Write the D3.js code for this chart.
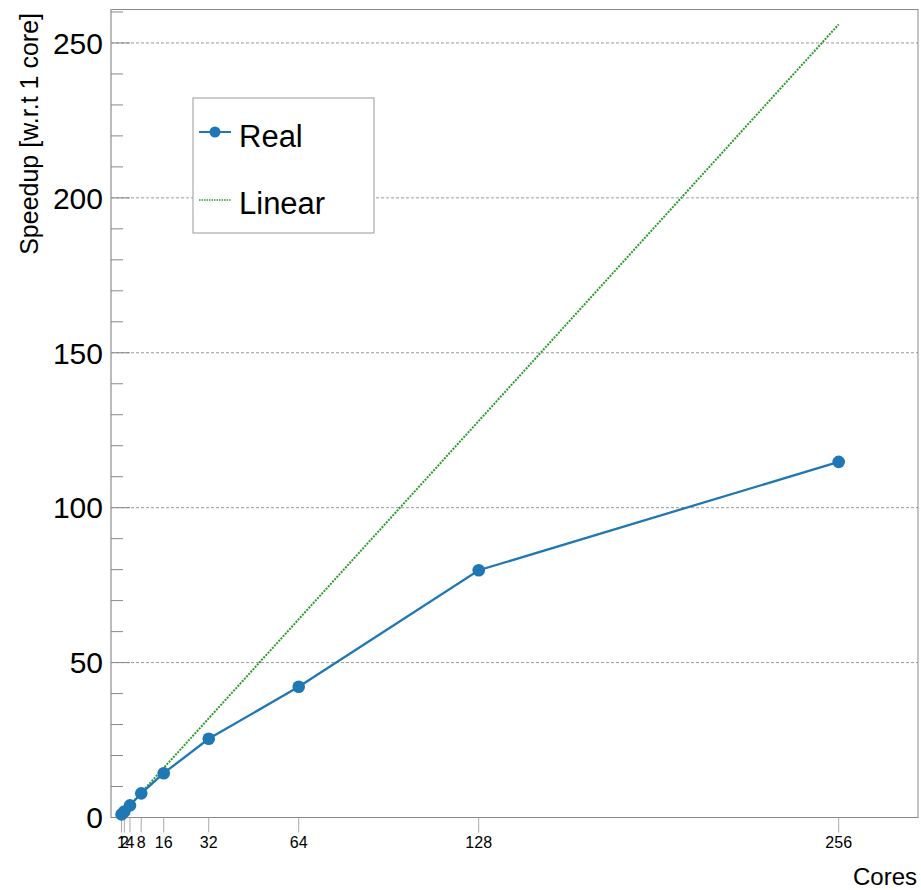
<!DOCTYPE html>
<html>
<head>
<meta charset="utf-8">
<script src="https://cdn.jsdelivr.net/npm/d3@7"></script>
<style>
  body { margin: 0; background: #fff; }
  svg { display: block; font-family: "Liberation Sans", Arial, sans-serif; }
</style>
</head>
<body>
<svg id="chart"></svg>
<script>
(() => {
  const W = 921, H = 890;

  // data
  const cores = [1, 2, 4, 8, 16, 32, 64, 128, 256];
  const real = [1, 1.95, 3.9, 7.8, 14.3, 25.4, 42.2, 79.8, 114.8];
  const linear = [1, 256];
  const yMajor = [0, 50, 100, 150, 200, 250];

  const M = { l: 111, r: 918, t: 9.5, b: 817.5 };
  const BLUE = "#1f77b4", GREEN = "#2e9a2e", GREY = "#999";

  const svg = d3.select("#chart").attr("width", W).attr("height", H);

  const x = d3.scaleLinear().domain([-2.75, 284.2]).range([M.l, M.r]);
  const y = d3.scaleLinear().domain([0, 260.8]).range([M.b, M.t]);

  // grid
  svg.append("g").selectAll("line").data(yMajor.filter(v => v > 0)).join("line")
    .attr("x1", M.l).attr("x2", M.r)
    .attr("y1", d => y(d)).attr("y2", d => y(d))
    .attr("stroke", GREY).attr("stroke-width", 1).attr("stroke-dasharray", "3,2");

  // frame
  svg.append("rect").attr("x", M.l).attr("y", M.t)
    .attr("width", M.r - M.l).attr("height", M.b - M.t)
    .attr("fill", "none").attr("stroke", "#888").attr("stroke-width", 1);
  svg.append("line").attr("x1", M.l).attr("x2", M.l).attr("y1", M.t).attr("y2", M.b)
    .attr("stroke", "#bbb").attr("stroke-width", 2);

  // y ticks: minor every 10, major every 50
  const yt = d3.range(0, 261, 10);
  svg.append("g").selectAll("line").data(yt).join("line")
    .attr("x1", M.l).attr("x2", d => M.l + (d % 50 === 0 ? 19 : 12))
    .attr("y1", d => y(d)).attr("y2", d => y(d))
    .attr("stroke", "#888").attr("stroke-width", 1);
  svg.append("g").selectAll("text").data(yMajor).join("text")
    .attr("x", 103).attr("y", d => y(d))
    .attr("dy", "0.36em").attr("text-anchor", "end")
    .attr("font-size", 30).attr("fill", "#000")
    .text(d => d);

  // x ticks at each core count (labels for 1, 2, 4 overlap as in the original)
  svg.append("g").selectAll("line").data(cores).join("line")
    .attr("x1", d => x(d)).attr("x2", d => x(d))
    .attr("y1", M.b).attr("y2", M.b + 15)
    .attr("stroke", "#aaa").attr("stroke-width", 1);
  svg.append("g").selectAll("text").data(cores).join("text")
    .attr("x", d => x(d)).attr("y", 848)
    .attr("text-anchor", "middle").attr("font-size", 16).attr("fill", "#000")
    .text(d => d);

  // axis titles
  svg.append("text").attr("x", 917).attr("y", 885)
    .attr("text-anchor", "end").attr("font-size", 24).text("Cores");
  svg.append("text")
    .attr("transform", "translate(38,13) rotate(-90)")
    .attr("text-anchor", "end").attr("font-size", 25).text("Speedup [w.r.t 1 core]");

  // linear reference
  svg.append("line")
    .attr("x1", x(linear[0])).attr("y1", y(linear[0]))
    .attr("x2", x(linear[1])).attr("y2", y(linear[1]))
    .attr("stroke", GREEN).attr("stroke-width", 2).attr("stroke-dasharray", "2,1.2");

  // real speedup
  const pts = cores.map((c, i) => [c, real[i]]);
  svg.append("path").datum(pts)
    .attr("d", d3.line().x(d => x(d[0])).y(d => y(d[1])))
    .attr("fill", "none").attr("stroke", BLUE).attr("stroke-width", 2.3);
  svg.append("g").selectAll("circle").data(pts).join("circle")
    .attr("cx", d => x(d[0])).attr("cy", d => y(d[1])).attr("r", 6.3)
    .attr("fill", BLUE);

  // legend
  const lg = svg.append("g");
  lg.append("rect").attr("x", 193).attr("y", 98).attr("width", 181).attr("height", 135)
    .attr("fill", "#fff").attr("stroke", "#999").attr("stroke-width", 1);
  lg.append("line").attr("x1", 199).attr("x2", 231).attr("y1", 132).attr("y2", 132)
    .attr("stroke", BLUE).attr("stroke-width", 2);
  lg.append("circle").attr("cx", 215).attr("cy", 132).attr("r", 5.5).attr("fill", BLUE);
  lg.append("text").attr("x", 239).attr("y", 147).attr("font-size", 31).text("Real");
  lg.append("line").attr("x1", 199).attr("x2", 231).attr("y1", 200).attr("y2", 200)
    .attr("stroke", GREEN).attr("stroke-width", 1.5).attr("stroke-dasharray", "1.5,1");
  lg.append("text").attr("x", 239).attr("y", 214).attr("font-size", 31).text("Linear");
})();
</script>
</body>
</html>
